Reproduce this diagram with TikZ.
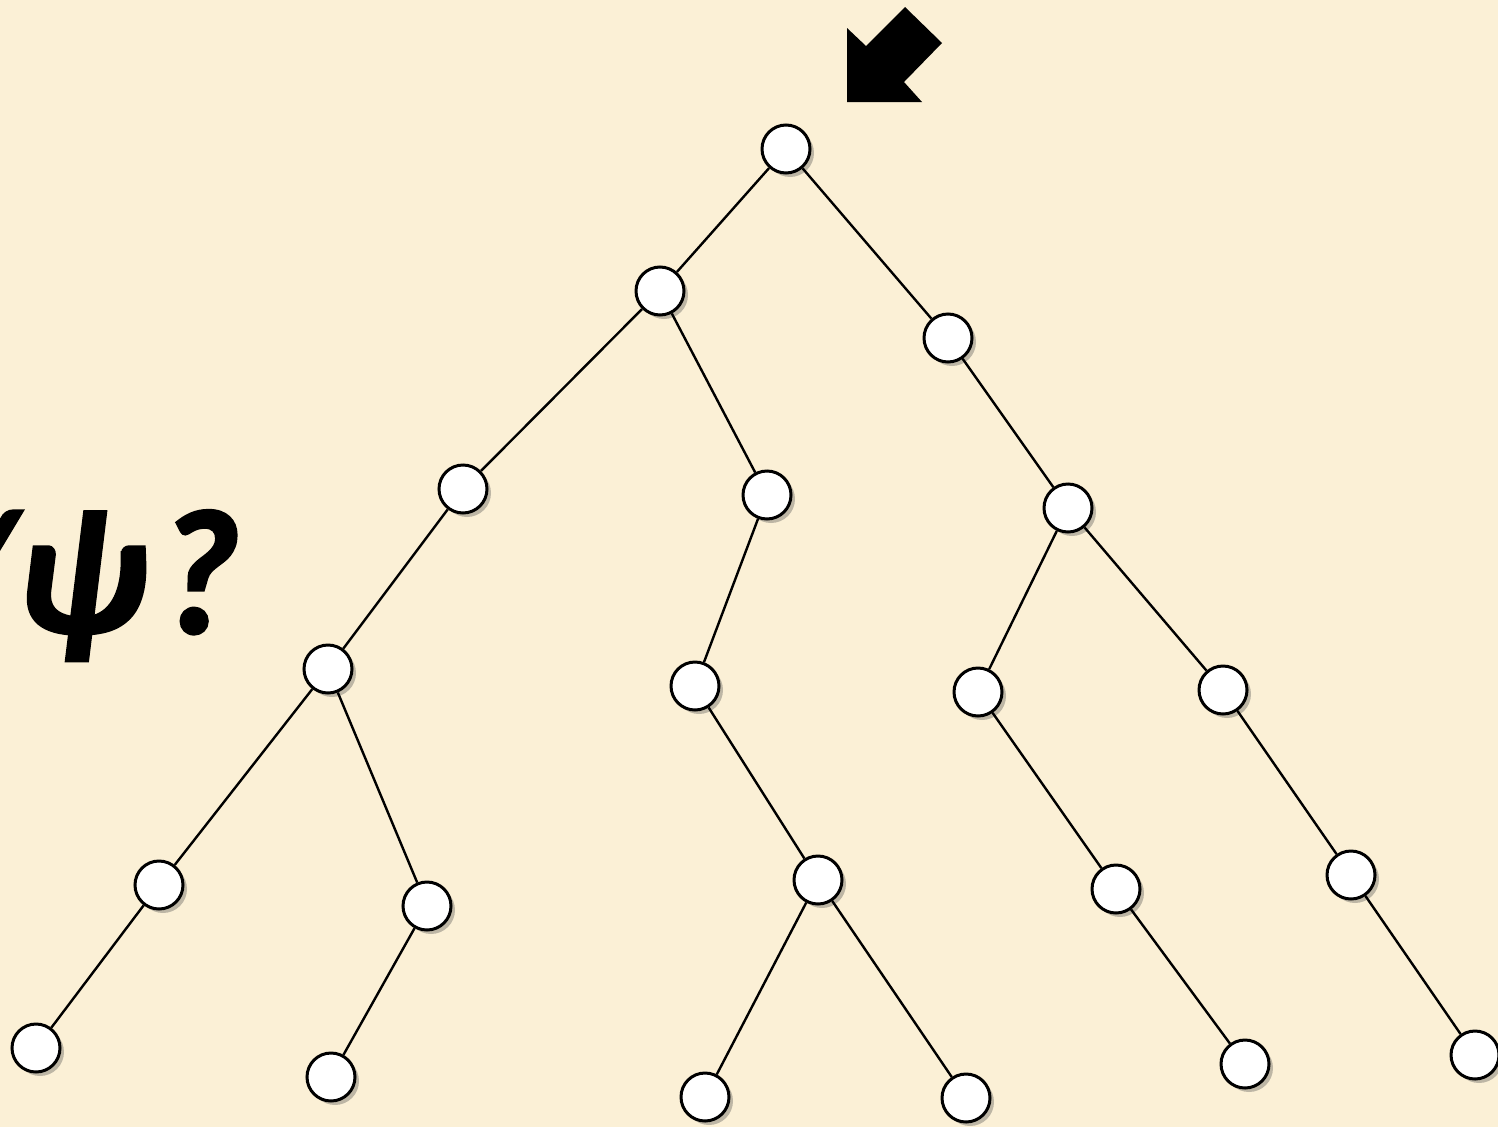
\documentclass[tikz,border=0pt]{standalone}
\usepackage{fontspec}
\newfontfamily\psifont[BoldItalicFeatures={FakeBold=1.6}]{Carlito}
\usetikzlibrary{shadows}
\definecolor{parch}{RGB}{251,240,214}
\tikzset{
  vert/.style={circle, draw=black, line width=3pt, fill=white, minimum size=48pt, inner sep=0pt,
    drop shadow={shadow xshift=4pt, shadow yshift=-4pt, opacity=0.35, fill=black!70}},
  edge/.style={line width=2.4pt, black},
  bigtext/.style={inner sep=0pt, font=\psifont\bfseries\itshape\fontsize{178}{178}\selectfont}
}
\begin{document}
\begin{tikzpicture}[x=1pt,y=-1pt]
\useasboundingbox (0,0) rectangle (1498,1127);
\clip (0,0) rectangle (1498,1127);
\fill[parch] (0,0) rectangle (1498,1127);
% question text
\node[bigtext, anchor=base east] (q) at (240,633) {ψ\kern10pt ?};
\node[bigtext, anchor=base east] (q0) at (14,633) {/};
% pointer arrow
\fill[black] (847,28) -- (866,46) -- (905,7) -- (942,43) -- (904,82) -- (922,102) -- (847,102) -- cycle;
% vertices
\node[vert] (r) at (786,149) {};
\node[vert] (a) at (660,291) {};
\node[vert] (b) at (948,338) {};
\node[vert] (c) at (463,489) {};
\node[vert] (d) at (767,495) {};
\node[vert] (e) at (1068,508) {};
\node[vert] (f) at (328,669) {};
\node[vert] (g) at (695,686) {};
\node[vert] (h) at (978,692) {};
\node[vert] (i) at (1223,690) {};
\node[vert] (j) at (159,885) {};
\node[vert] (k) at (427,906) {};
\node[vert] (l) at (818,880) {};
\node[vert] (m) at (1116,889) {};
\node[vert] (n) at (1351,875) {};
\node[vert] (p1) at (36,1048) {};
\node[vert] (p2) at (331,1077) {};
\node[vert] (p3) at (705,1097) {};
\node[vert] (p4) at (966,1098) {};
\node[vert] (p5) at (1245,1064) {};
\node[vert] (p6) at (1475,1055) {};
% edges
\draw[edge] (r) -- (a);
\draw[edge] (r) -- (b);
\draw[edge] (a) -- (c);
\draw[edge] (a) -- (d);
\draw[edge] (b) -- (e);
\draw[edge] (c) -- (f);
\draw[edge] (d) -- (g);
\draw[edge] (e) -- (h);
\draw[edge] (e) -- (i);
\draw[edge] (f) -- (j);
\draw[edge] (f) -- (k);
\draw[edge] (g) -- (l);
\draw[edge] (h) -- (m);
\draw[edge] (i) -- (n);
\draw[edge] (j) -- (p1);
\draw[edge] (k) -- (p2);
\draw[edge] (l) -- (p3);
\draw[edge] (l) -- (p4);
\draw[edge] (m) -- (p5);
\draw[edge] (n) -- (p6);
\end{tikzpicture}
\end{document}
